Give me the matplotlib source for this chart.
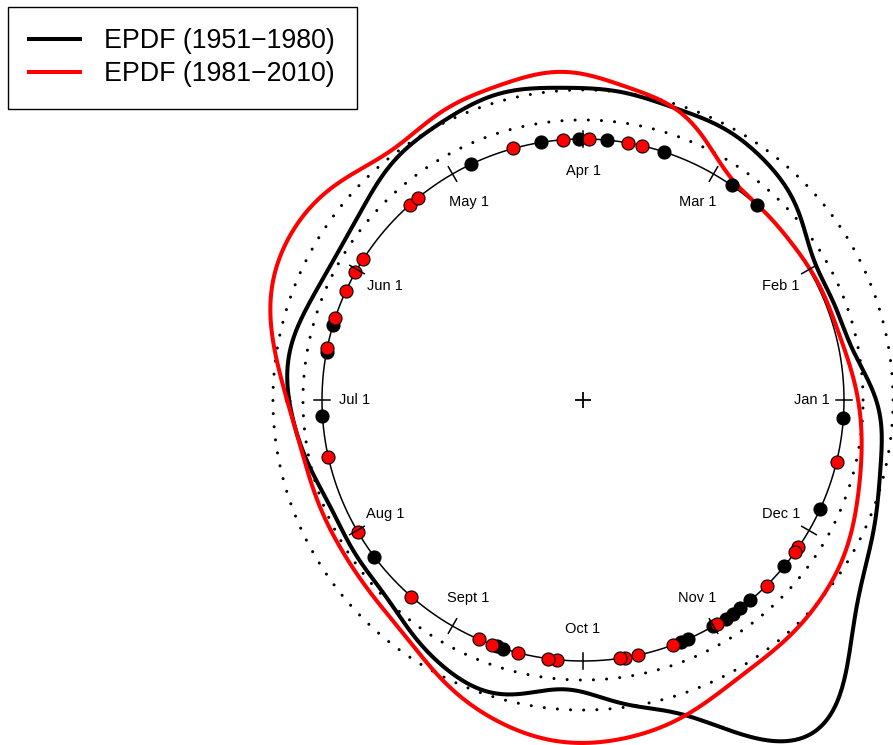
import numpy as np
import matplotlib.pyplot as plt

plt.rcParams['font.family'] = ['Liberation Sans', 'DejaVu Sans']

# month marks, 30 degrees apart, counter-clockwise from east
months = ["Jan 1", "Feb 1", "Mar 1", "Apr 1", "May 1", "Jun 1",
          "Jul 1", "Aug 1", "Sept 1", "Oct 1", "Nov 1", "Dec 1"]
month_deg = np.arange(0, 360, 30)

# event dates as circular angles (degrees)
dates_5180 = [115.4, 99.2, 90.9, 84.7, 72.0, 55.3, 48.3, -3.9, -24.6, -39.6,
              -50.1, -53.0, -55.0, -56.9, -60.2, -66.3, -67.9, -107.8, -109.2,
              -143.1, 163.4, 169.3, -176.5]
dates_8110 = [131.6, 129.2, 105.5, 94.4, 88.7, 80.1, 77.0, -13.7, -34.4, -35.6,
              -45.3, -59.1, -69.8, -77.8, -80.8, -81.8, -95.7, -97.7, -104.4,
              -110.4, -113.6, -131.1, -149.5, -167.4, 168.4, 161.8, 155.3,
              150.7, 147.3]

# EPDF radius (circle = 1) every 10 degrees from -180
grid_deg = np.arange(-180, 180, 10)
epdf_5180 = [1.126, 1.092, 1.057, 1.050, 1.057, 1.088, 1.142, 1.176, 1.138,
             1.119, 1.192, 1.303, 1.510, 1.513, 1.352, 1.253, 1.199, 1.161,
             1.123, 1.054, 1.031, 1.031, 1.088, 1.142, 1.169, 1.172, 1.184,
             1.195, 1.211, 1.211, 1.188, 1.161, 1.115, 1.096, 1.111, 1.138]
epdf_8110 = [1.134, 1.096, 1.088, 1.088, 1.096, 1.119, 1.176, 1.245, 1.295,
             1.314, 1.299, 1.261, 1.218, 1.203, 1.188, 1.161, 1.119, 1.084,
             1.054, 1.023, 1.008, 1.004, 1.000, 1.004, 1.050, 1.153, 1.203,
             1.249, 1.257, 1.241, 1.218, 1.211, 1.261, 1.287, 1.268, 1.203]

# dotted reference rings
rings = [1.073, 1.188]


def closed_curve(deg, r, n=720):
    """Smooth periodic curve through the sampled radii (trig interpolation)."""
    r = np.asarray(r, float)
    m = len(r)
    c = np.fft.rfft(r)
    cc = np.zeros(n // 2 + 1, complex)
    cc[:len(c)] = c
    cc[m // 2] /= 2
    rr = np.fft.irfft(cc, n) * n / m
    th = np.deg2rad(deg[0]) + 2 * np.pi * np.arange(n + 1) / n
    rr = np.append(rr, rr[0])
    return rr * np.cos(th), rr * np.sin(th)


fig = plt.figure(figsize=(8.93, 7.45), dpi=100)
ax = fig.add_axes([0, 0, 1, 1])
s = 261.0
ax.set_xlim(-583 / s, (893 - 583) / s)
ax.set_ylim(-(745 - 400) / s, 400 / s)
ax.axis('off')

t = np.linspace(0, 2 * np.pi, 721)
ax.plot(np.cos(t), np.sin(t), color='black', lw=1.1, zorder=2)
for rr in rings:
    ax.plot(rr * np.cos(t), rr * np.sin(t), color='black', lw=2.2,
            linestyle=(0, (0.01, 4.3)), dash_capstyle='round', zorder=1)

# month ticks and labels
for a, lab in zip(np.deg2rad(month_deg), months):
    ax.plot([0.968 * np.cos(a), 1.032 * np.cos(a)],
            [0.968 * np.sin(a), 1.032 * np.sin(a)], color='black', lw=1.1, zorder=4)
    ax.text(0.876 * np.cos(a), 0.876 * np.sin(a), lab, fontsize=10.5,
            ha='center', va='center')

ax.plot(0, 0, marker='+', color='black', ms=11, mew=1.3)

bx, by = closed_curve(grid_deg, epdf_5180)
ax.plot(bx, by, color='black', lw=2.9, zorder=2, label='EPDF (1951\u22121980)')
rx, ry = closed_curve(grid_deg, epdf_8110)
ax.plot(rx, ry, color='red', lw=2.9, zorder=2.5, label='EPDF (1981\u22122010)')

a1 = np.deg2rad(dates_5180)
ax.plot(np.cos(a1), np.sin(a1), 'o', ms=9.4, mfc='black', mec='black',
        mew=0.8, zorder=3)
a2 = np.deg2rad(dates_8110)
ax.plot(np.cos(a2), np.sin(a2), 'o', ms=9.4, mfc='red', mec='black',
        mew=0.8, zorder=3.5)

leg = ax.legend(loc='upper left', bbox_to_anchor=(8 / 893, 1 - 7 / 745),
                bbox_transform=fig.transFigure, fontsize=19.3, frameon=True,
                fancybox=False, framealpha=1, edgecolor='black',
                borderaxespad=0, handlelength=1.87, handletextpad=0.93,
                labelspacing=0.25, borderpad=0.8)
leg.get_frame().set_linewidth(1.0)

fig.savefig('out.png', dpi=100)
